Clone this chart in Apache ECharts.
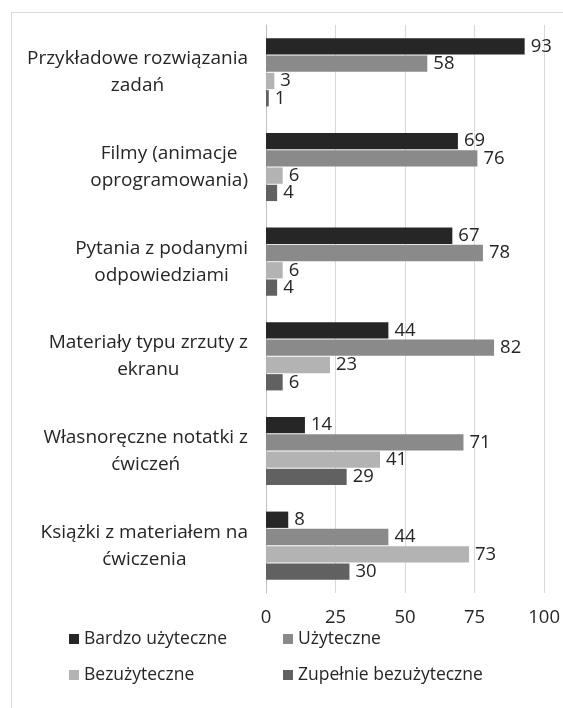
<!DOCTYPE html>
<html><head><meta charset="utf-8">
<script src="https://cdn.jsdelivr.net/npm/echarts@6/dist/echarts.min.js"></script>
<style>html,body{margin:0;padding:0;background:#fff}#c{width:563px;height:708px}</style>
</head><body><div id="c"></div>
<script>
const categories = [
  "Przykładowe rozwiązania\nzadań",
  "Filmy (animacje\noprogramowania)",
  "Pytania z podanymi\nodpowiedziami",
  "Materiały typu zrzuty z\nekranu",
  "Własnoręczne notatki z\nćwiczeń",
  "Książki z materiałem na\nćwiczenia"
];
const seriesNames = ["Bardzo użyteczne", "Użyteczne", "Bezużyteczne", "Zupełnie bezużyteczne"];
const bardzoUzyteczne = [93, 69, 67, 44, 14, 8];
const uzyteczne = [58, 76, 78, 82, 71, 44];
const bezuzyteczne = [3, 6, 6, 23, 41, 73];
const zupelnieBezuzyteczne = [1, 4, 4, 6, 29, 30];
const xTicks = [0, 25, 50, 75, 100];

const colors = ["#262626", "#8a8a8a", "#b3b3b3", "#616161"];
const values = [bardzoUzyteczne, uzyteczne, bezuzyteczne, zupelnieBezuzyteczne];
const FONT = "Open Sans";

const chart = echarts.init(document.getElementById('c'), null, {renderer: 'canvas'});
chart.setOption({
  animation: false,
  backgroundColor: '#fff',
  textStyle: {fontFamily: FONT},
  graphic: [{
    type: 'rect', shape: {x: 11.5, y: 12.5, width: 600, height: 720},
    style: {fill: 'none', stroke: '#d9d9d9', lineWidth: 1}, silent: true, z: -1
  }],
  grid: {left: 266, right: 18, top: 25, bottom: 115, containLabel: false},
  xAxis: {
    type: 'value', min: xTicks[0], max: xTicks[xTicks.length - 1], interval: 25,
    axisLine: {show: false}, axisTick: {show: false},
    splitLine: {lineStyle: {color: '#d9d9d9', width: 1}},
    axisLabel: {color: '#262626', fontSize: 18.5, margin: 15, fontFamily: FONT}
  },
  yAxis: {
    type: 'category', data: categories, inverse: true,
    axisLine: {show: true, lineStyle: {color: '#bfbfbf', width: 1}},
    axisTick: {show: false},
    axisLabel: {
      color: '#262626', fontSize: 19, margin: 18, fontFamily: FONT, lineHeight: 27,
      formatter: v => v.split('\n').map(l => '{c|' + l + '}').join('\n'),
      rich: {c: {align: 'center', fontSize: 19, lineHeight: 27, color: '#262626', fontFamily: FONT}}
    }
  },
  legend: [
    {data: [seriesNames[0], seriesNames[2]], orient: 'vertical', left: 64, top: 624,
     icon: 'rect', itemWidth: 10, itemHeight: 10, itemGap: 16,
     textStyle: {fontSize: 17.5, color: '#262626', lineHeight: 20, fontFamily: FONT}},
    {data: [seriesNames[1], seriesNames[3]], orient: 'vertical', left: 278, top: 624,
     icon: 'rect', itemWidth: 10, itemHeight: 10, itemGap: 16,
     textStyle: {fontSize: 17.5, color: '#262626', lineHeight: 20, fontFamily: FONT}}
  ],
  series: seriesNames.map((name, i) => ({
    name, type: 'bar', data: values[i],
    barGap: '6%', barCategoryGap: '28%',
    itemStyle: {color: colors[i]},
    label: {show: true, position: 'right', distance: 6, color: '#262626', fontSize: 18.5, fontFamily: FONT}
  }))
});
</script></body></html>
